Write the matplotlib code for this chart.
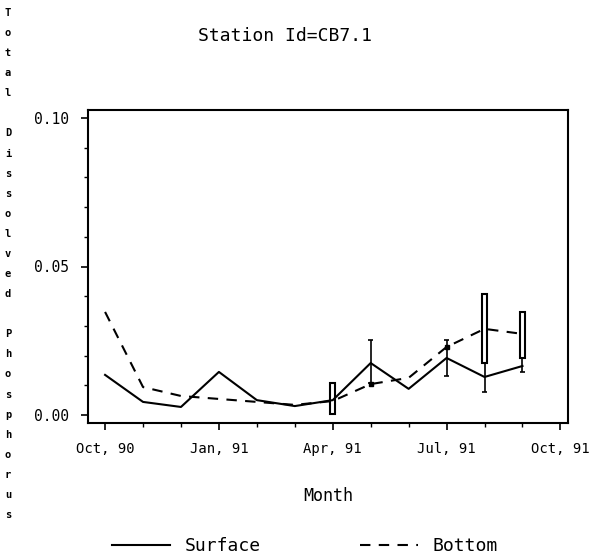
import matplotlib
matplotlib.use("Agg")
import matplotlib.pyplot as plt
from matplotlib.patches import Rectangle
from matplotlib.ticker import MultipleLocator, FixedLocator

# months counted from Oct 1990
months = list(range(12))
surface = [0.0135, 0.0044, 0.0027, 0.0145, 0.0050, 0.0030,
           0.0050, 0.0175, 0.0088, 0.0192, 0.0128, 0.0165]
bottom = [0.0347, 0.0094, 0.0064, 0.0054, 0.0044, 0.0034,
          0.0047, 0.0104, 0.0125, 0.0229, 0.0290, 0.0273]

# whisker ranges (low, high)
whisk_month = [7, 9, 10, 11]
whisk_low = [0.0108, 0.0131, 0.0077, 0.0145]
whisk_high = [0.0253, 0.0253, 0.0175, 0.0192]

# open boxes (low, high)
box_month = [6, 10, 11]
box_low = [0.0003, 0.0175, 0.0192]
box_high = [0.0108, 0.0407, 0.0347]

tick_pos = [0, 3, 6, 9, 12]
tick_labels = ["Oct, 90", "Jan, 91", "Apr, 91", "Jul, 91", "Oct, 91"]
ylabel_text = "Total Dissolved Phosphorus"

mono = "DejaVu Sans Mono"

fig = plt.figure(figsize=(5.92, 5.56), dpi=100)
ax = fig.add_axes([88 / 592, 133 / 556, 480 / 592, 313 / 556])

ax.plot(months, surface, color="black", lw=1.5, label="Surface")
ax.plot(months, bottom, color="black", lw=1.5, ls=(0, (5, 4)), label="Bottom")

# whiskers with caps
ax.vlines(whisk_month, whisk_low, whisk_high, color="black", lw=1.2)
ax.hlines(whisk_low + whisk_high, [m - 0.06 for m in whisk_month * 2],
          [m + 0.06 for m in whisk_month * 2], color="black", lw=1.2)

# narrow open boxes
for m, lo, hi in zip(box_month, box_low, box_high):
    ax.add_patch(Rectangle((m - 0.07, lo), 0.14, hi - lo, fill=False,
                           edgecolor="black", lw=1.5))

# small markers on bottom series
ax.plot([7, 9], [bottom[7], bottom[9]], "s", color="black", ms=3.5)

ax.set_xlim(-0.45, 12.2)
ax.set_ylim(-0.0027, 0.1027)
ax.xaxis.set_major_locator(FixedLocator(tick_pos))
ax.xaxis.set_minor_locator(MultipleLocator(1))
ax.set_xticks(tick_pos)
ax.set_xticklabels(tick_labels, fontfamily=mono, fontsize=10)
ax.set_yticks([0.0, 0.05, 0.10])
ax.set_yticklabels(["0.00", "0.05", "0.10"], fontfamily=mono, fontsize=10.5)
ax.yaxis.set_minor_locator(MultipleLocator(0.01))
ax.tick_params(which="major", direction="out", length=5, width=1.2, pad=9)
ax.tick_params(which="minor", direction="out", length=3, width=1)
for s in ax.spines.values():
    s.set_linewidth(1.5)

ax.set_xlabel("Month", fontfamily=mono, fontsize=12, labelpad=22)

fig.text(285 / 592, 1 - 36 / 556, "Station Id=CB7.1", fontfamily=mono,
         fontsize=13, ha="center", va="center")

fig.text(8 / 592, 1 - 8 / 556, "\n".join(ylabel_text), fontfamily=mono,
         fontsize=7.5, fontweight="bold", ha="center", va="top",
         linespacing=2.26)

fig.legend(loc="lower center", bbox_to_anchor=(0.515, -0.028), ncol=2,
           frameon=False, handlelength=3.2, columnspacing=5.5,
           prop={"family": mono, "size": 13})

fig.savefig("out.png", dpi=100)
